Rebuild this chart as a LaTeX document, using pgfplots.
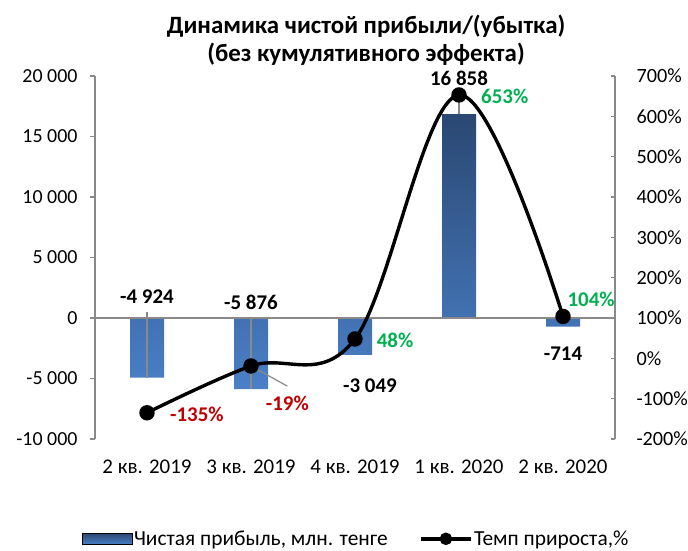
\documentclass[border=0pt]{standalone}
\usepackage{pgfplots}
\pgfplotsset{compat=1.18}
\usepackage{fontspec}
\setmainfont{Carlito}
\definecolor{bartop}{HTML}{2A4872}
\definecolor{barbot}{HTML}{4A80C8}
\definecolor{axgray}{HTML}{898989}
\definecolor{lblred}{HTML}{C00000}
\definecolor{lblgreen}{HTML}{00B050}
\tikzset{lbl/.style={font=\fontsize{21}{24}\selectfont\bfseries}}
\begin{document}
\begin{tikzpicture}
\useasboundingbox (0,0) rectangle (688bp,551bp);
\node[align=center,font=\fontsize{25}{28.5}\selectfont\bfseries] at (366bp,511bp)
  {Динамика чистой прибыли/(убытка)\\(без кумулятивного эффекта)};
\begin{axis}[
  at={(95bp,112bp)}, anchor=south west,
  scale only axis, width=520bp, height=363bp,
  xmin=-0.5, xmax=4.5, ymin=-10000, ymax=20000,
  scaled y ticks=false,
  axis y line*=left, axis x line*=bottom,
  x axis line style={draw=none},
  y axis line style={axgray, line width=1.3bp},
  xtick={0,1,2,3,4},
  xticklabels={2 кв. 2019,3 кв. 2019,4 кв. 2019,1 кв. 2020,2 кв. 2020},
  xtick style={draw=none},
  xticklabel style={font=\fontsize{21}{24}\selectfont, yshift=-12bp},
  ytick={-10000,-5000,0,5000,10000,15000,20000},
  yticklabels={-10 000,-5 000,0,5 000,10 000,15 000,20 000},
  yticklabel style={font=\fontsize{20}{24}\selectfont, xshift=-9bp},
  ytick style={axgray, line width=1.3bp},
  tick align=outside, major tick length=5bp,
  clip=false,
]
\addplot[ybar, bar width=34bp, draw=none, top color=bartop, bottom color=barbot]
  coordinates {(0,-4924) (1,-5876) (2,-3049) (3,16858) (4,-714)};
\draw[axgray, line width=1.2bp] (axis cs:0,500) -- (axis cs:0,-4924);
\draw[axgray, line width=1.2bp] (axis cs:1,0) -- (axis cs:1,-5876);
\draw[axgray, line width=1.2bp] (axis cs:3,18400) -- (axis cs:3,16858);
\draw[axgray, line width=1.2bp] (axis cs:-0.5,0) -- (axis cs:4.5,0);
\node[lbl] at (axis cs:0,1750) {-4 924};
\node[lbl] at (axis cs:1,1320) {-5 876};
\node[lbl] at (axis cs:2.144,-5600) {-3 049};
\node[lbl] at (axis cs:3,19835) {16 858};
\node[lbl] at (axis cs:4,-2950) {-714};
\end{axis}
\begin{axis}[
  at={(95bp,112bp)}, anchor=south west,
  scale only axis, width=520bp, height=363bp,
  xmin=-0.5, xmax=4.5, ymin=-200, ymax=700,
  axis y line*=right, axis x line=none,
  y axis line style={axgray, line width=1.3bp},
  ytick={-200,-100,0,100,200,300,400,500,600,700},
  yticklabels={-200\%,-100\%,0\%,100\%,200\%,300\%,400\%,500\%,600\%,700\%},
  yticklabel style={font=\fontsize{20.3}{24}\selectfont, xshift=18bp},
  ytick style={axgray, line width=1.3bp},
  tick align=inside, major tick length=4bp,
  clip=false,
  legend style={at={(0.502,-0.275)}, anchor=center, draw=none, fill=none,
    legend columns=2, font=\fontsize{21.5}{24}\selectfont,
    /tikz/every even column/.append style={column sep=30bp},
    nodes={inner sep=1.5bp}},
]
\addlegendimage{legend image code/.code={\shade[top color=bartop,bottom color=barbot] (0bp,-5.5bp) rectangle (50bp,5.5bp);}}
\addlegendentry{Чистая прибыль, млн. тенге}
\draw[axgray, line width=1.2bp] (axis cs:1,-19) -- (axis cs:1.35,-69);
\addplot[black, line width=3.4bp, smooth, tension=0.6, mark=*, mark size=6bp,
  legend image code/.code={\draw[black,line width=3.4bp] (0bp,0bp) -- (50bp,0bp); \fill[black] (25bp,0bp) circle (4.5bp);}]
  coordinates {(0,-135) (1,-19) (2,48) (3,653) (4,104)};
\addlegendentry{Темп прироста,\%}
\node[lbl,text=lblred] at (axis cs:0.48,-138) {-135\%};
\node[lbl,text=lblred] at (axis cs:1.35,-111) {-19\%};
\node[lbl,text=lblgreen] at (axis cs:2.385,45) {48\%};
\node[lbl,text=lblgreen] at (axis cs:3.44,650) {653\%};
\node[lbl,text=lblgreen] at (axis cs:4.27,147) {104\%};
\end{axis}
\end{tikzpicture}
\end{document}
